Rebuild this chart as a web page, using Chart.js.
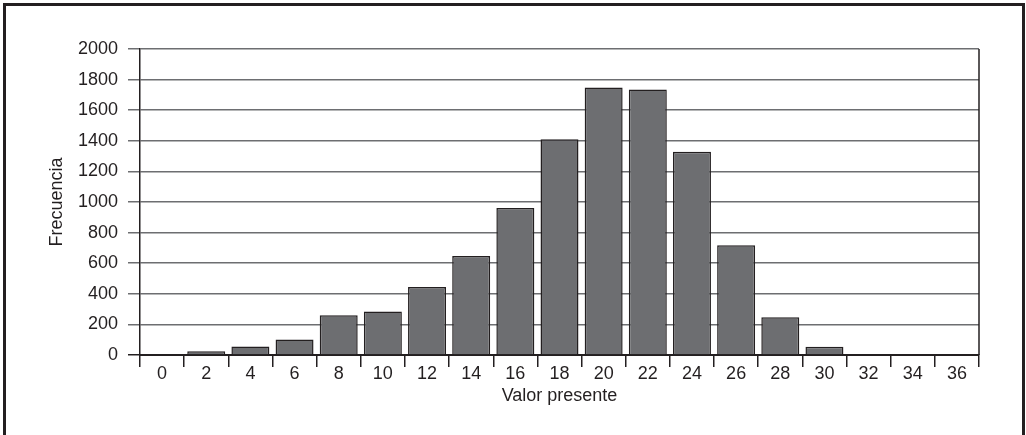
<!DOCTYPE html>
<html>
<head>
<meta charset="utf-8">
<script src="https://cdn.jsdelivr.net/npm/chart.js@4/dist/chart.umd.min.js"></script>
<style>
  body { margin: 0; background: #fff; }
  #wrap { position: relative; width: 1026px; height: 435px; overflow: hidden; }
  #marco { position: absolute; left: 3px; top: 3px; width: 1016px; height: 500px; border: 3px solid #231f20; pointer-events: none; }
  canvas { position: absolute; left: 0; top: 0; }
</style>
</head>
<body>
<div id="wrap">
  <canvas id="grafico" width="1026" height="435"></canvas>
  <div id="marco"></div>
</div>
<script>
// valores
const categorias = ['0','2','4','6','8','10','12','14','16','18','20','22','24','26','28','30','32','34','36'];
const frecuencias = [0, 24, 56, 101, 259, 285, 445, 647, 960, 1410, 1748, 1735, 1329, 718, 247, 54, 0, 0, 0];
const ticksY = [0, 2000, 200]; // min, max, paso

const fuente = { family: "'Liberation Sans', Arial, sans-serif", size: 18 };

// linea del borde derecho del area de trazado
const bordeDerecho = {
  id: 'bordeDerecho',
  afterDatasetsDraw(chart) {
    const a = chart.chartArea;
    const c = chart.ctx;
    c.save();
    c.strokeStyle = '#231f20';
    c.lineWidth = 1.5;
    c.beginPath();
    c.moveTo(a.right, a.top);
    c.lineTo(a.right, a.bottom);
    c.stroke();
    c.restore();
  }
};

const data = {
  labels: categorias,
  datasets: [{
    label: 'Frecuencia',
    data: frecuencias,
    backgroundColor: '#6d6e71',
    borderColor: '#231f20',
    borderWidth: 1.5,
    categoryPercentage: 1,
    barPercentage: 0.86
  }]
};

const config = {
  type: 'bar',
  data: data,
  options: {
    responsive: false,
    animation: false,
    layout: { padding: { left: 0, right: 47, top: 49, bottom: 0 } },
    plugins: { legend: { display: false }, tooltip: { enabled: false } },
    scales: {
      x: {
        afterFit: (s) => { s.height = 80; },
        grid: { offset: true, drawOnChartArea: false, drawTicks: true, tickLength: 12, color: '#231f20', lineWidth: 1.5 },
        border: { color: '#231f20', width: 2 },
        ticks: { color: '#231f20', font: fuente, padding: -4, maxRotation: 0, autoSkip: false },
        title: { display: true, text: 'Valor presente', color: '#231f20', font: fuente, padding: { top: 0, bottom: 28 } }
      },
      y: {
        min: ticksY[0],
        max: ticksY[1],
        afterFit: (s) => { s.width = 140; },
        grid: {
          color: (ctx) => ctx.tick && ctx.tick.value === 0 ? '#231f20' : '#6d6e71',
          lineWidth: 1.5,
          tickLength: 12
        },
        border: { color: '#231f20', width: 1.5 },
        ticks: { stepSize: ticksY[2], color: '#231f20', font: fuente, padding: 10, callback: (v) => String(v) },
        title: { display: true, text: 'Frecuencia', color: '#231f20', font: fuente, padding: { top: 46, bottom: 0 } }
      }
    }
  },
  plugins: [bordeDerecho]
};

let c = document.getElementById('grafico').getContext('2d');
new Chart(c, config);
</script>
</body>
</html>
